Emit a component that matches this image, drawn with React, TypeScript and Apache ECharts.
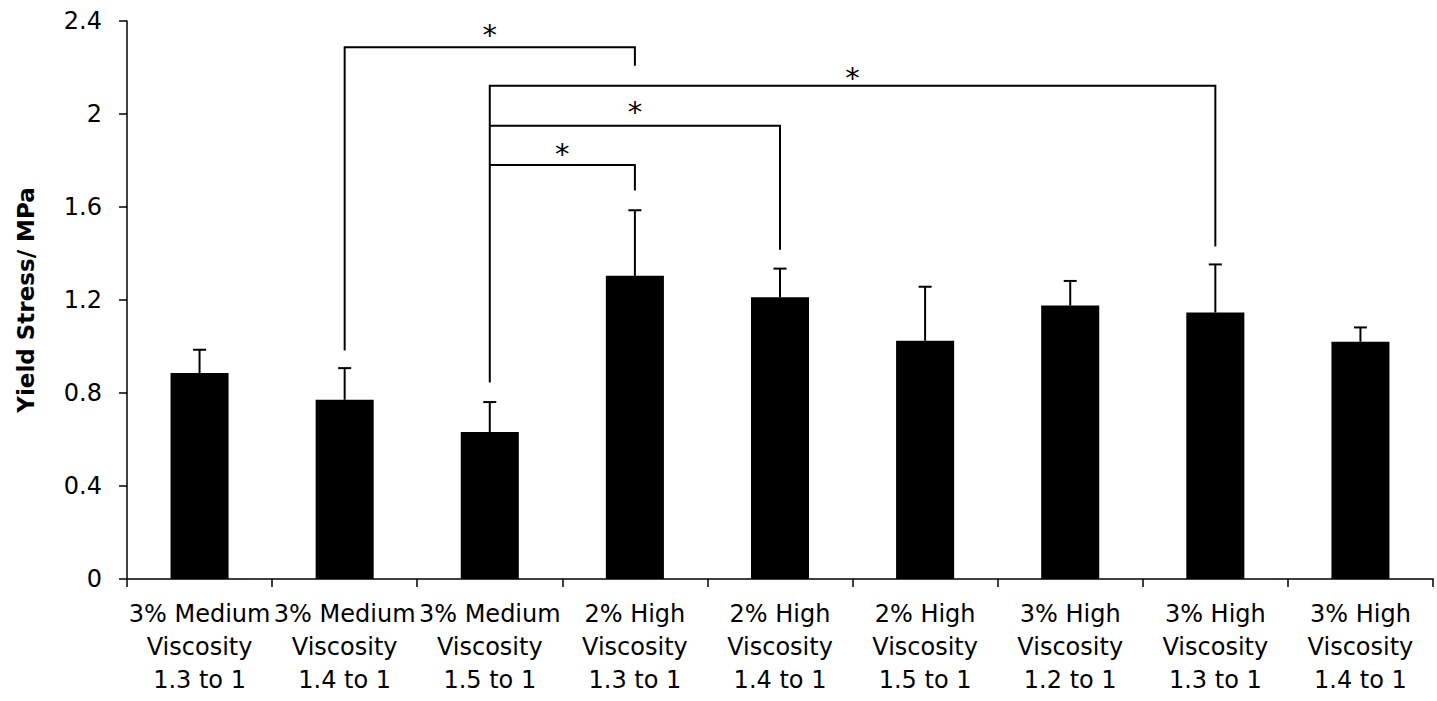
import React, { useEffect, useRef } from "react";
import * as echarts from "echarts";

const categories = [
  "3% Medium\nViscosity\n1.3 to 1",
  "3% Medium\nViscosity\n1.4 to 1",
  "3% Medium\nViscosity\n1.5 to 1",
  "2% High\nViscosity\n1.3 to 1",
  "2% High\nViscosity\n1.4 to 1",
  "2% High\nViscosity\n1.5 to 1",
  "3% High\nViscosity\n1.2 to 1",
  "3% High\nViscosity\n1.3 to 1",
  "3% High\nViscosity\n1.4 to 1",
];
const means = [0.886, 0.771, 0.632, 1.304, 1.212, 1.025, 1.176, 1.146, 1.02];
const errors = [0.1, 0.136, 0.129, 0.282, 0.123, 0.232, 0.106, 0.207, 0.062];

// significance brackets (category indices and y-levels in MPa)
const bracketFrom = [1, 2, 2, 2];
const bracketTo = [3, 7, 4, 3];
const bracketBase = [0.983, 0.845, 1.95, 1.781];
const bracketTop = [2.287, 2.122, 1.95, 1.781];
const bracketEnd = [2.207, 1.43, 1.416, 1.671];
const starLevel = [2.358, 2.17, 2.026, 1.846];
const starText = ["*", "*", "*", "*"];

const FONT = "'DejaVu Sans', Verdana, sans-serif";

export default function App() {
  const ref = useRef<HTMLDivElement>(null);
  useEffect(() => {
    if (!ref.current) return;
    const chart = echarts.init(ref.current, null, { renderer: "svg" });
    const errData = means.map((m, i) => [i, m, m + errors[i]]);
    const bracketData = bracketFrom.map((f, i) => [
      f,
      bracketTo[i],
      bracketBase[i],
      bracketTop[i],
      bracketEnd[i],
      starLevel[i],
    ]);
    chart.setOption({
      animation: false,
      grid: { left: 127, right: 4, top: 21, bottom: 122, containLabel: false },
      xAxis: {
        type: "category",
        data: categories,
        axisLine: { lineStyle: { color: "#000", width: 1.5 } },
        axisTick: { show: true, length: 8, lineStyle: { color: "#000", width: 1.5 } },
        axisLabel: {
          interval: 0,
          color: "#000",
          fontFamily: FONT,
          fontSize: 24,
          lineHeight: 33,
          margin: 18,
        },
        splitLine: { show: false },
      },
      yAxis: {
        type: "value",
        min: 0,
        max: 2.4,
        interval: 0.4,
        name: "Yield Stress/ MPa",
        nameLocation: "middle",
        nameGap: 90,
        nameTextStyle: {
          color: "#000",
          fontFamily: FONT,
          fontSize: 23,
          fontWeight: "bold",
        },
        axisLine: { show: true, lineStyle: { color: "#000", width: 1.5 } },
        axisTick: { show: true, length: 8, lineStyle: { color: "#000", width: 1.5 } },
        axisLabel: {
          color: "#000",
          fontFamily: FONT,
          fontSize: 24,
          margin: 25,
        },
        splitLine: { show: false },
      },
      series: [
        {
          type: "bar",
          data: means,
          barWidth: "40%",
          itemStyle: { color: "#000" },
        },
        {
          type: "custom",
          data: errData,
          encode: { x: 0, y: [1, 2] },
          z: 3,
          renderItem: (params: any, api: any) => {
            const i = api.value(0);
            const p0 = api.coord([i, api.value(1)]);
            const p1 = api.coord([i, api.value(2)]);
            const hw = 6.5;
            const st = { stroke: "#000", lineWidth: 2 };
            return {
              type: "group",
              children: [
                { type: "line", shape: { x1: p0[0], y1: p0[1], x2: p1[0], y2: p1[1] }, style: st },
                { type: "line", shape: { x1: p1[0] - hw, y1: p1[1], x2: p1[0] + hw, y2: p1[1] }, style: st },
              ],
            };
          },
        },
        {
          type: "custom",
          data: bracketData,
          encode: { x: 0, y: 3 },
          z: 4,
          renderItem: (params: any, api: any) => {
            const f = api.value(0);
            const t = api.value(1);
            const a = api.coord([f, api.value(2)]);
            const b = api.coord([f, api.value(3)]);
            const c = api.coord([t, api.value(3)]);
            const d = api.coord([t, api.value(4)]);
            const s = api.coord([f, api.value(5)]);
            const midX = (b[0] + c[0]) / 2;
            return {
              type: "group",
              children: [
                {
                  type: "polyline",
                  shape: { points: [a, b, c, d] },
                  style: { stroke: "#000", lineWidth: 2, fill: "none" },
                },
                {
                  type: "text",
                  x: midX,
                  y: s[1] + 4,
                  style: {
                    text: starText[params.dataIndex],
                    fontFamily: FONT,
                    fontSize: 29,
                    fill: "#000",
                    align: "center",
                    verticalAlign: "middle",
                  },
                },
              ],
            };
          },
        },
      ],
    });
    return () => chart.dispose();
  }, []);
  return (
    <div
      ref={ref}
      style={{ position: "absolute", left: 0, top: 0, width: 1437, height: 701, background: "#fff" }}
    />
  );
}
